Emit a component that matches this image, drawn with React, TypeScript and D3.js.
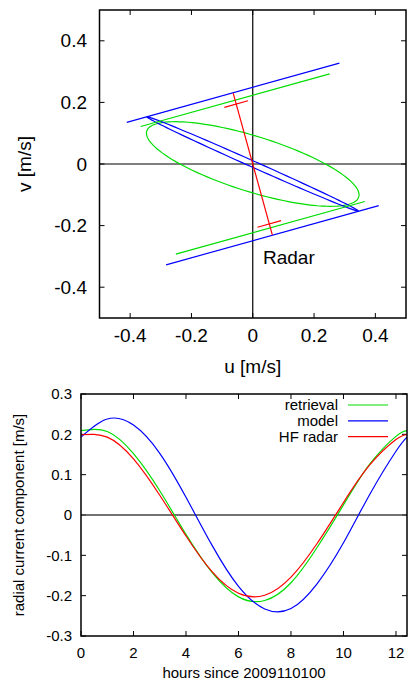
import React from "react";
import * as d3 from "d3";

// ---- top panel: current ellipses in the u/v plane ----
const uvTicks = [-0.4, -0.2, 0, 0.2, 0.4];
const beamAngle = 105.5; // radar look direction, degrees from +u
// lines perpendicular to the beam at +/- radial amplitude
const bandNames = ["retrieval", "model"];
const bandOffset = [0.215, 0.24];
const bandHalfLength = [0.32, 0.36];
// HF radar bar along the beam
const radarSpan = 0.239;
const radarTick = 0.202;
const radarTickHalf = 0.04;
// ellipses: semi-major, semi-minor, angle (deg)
const ellipseRetrieval = [0.362, 0.09, -17.2];
const ellipseModel = [0.377, 0.01, -23.9];

// ---- bottom panel: radial component vs time ----
const hours = [0, 1, 2, 3, 4, 5, 6, 7, 8, 9, 10, 11, 12, 12.42];
const retrieval = [0.209, 0.207, 0.152, 0.06, -0.048, -0.143, -0.203, -0.212, -0.168, -0.08, 0.025, 0.126, 0.195, 0.209];
const model = [0.193, 0.238, 0.223, 0.153, 0.044, -0.076, -0.177, -0.233, -0.232, -0.17, -0.069, 0.051, 0.158, 0.193];
const hfRadar = [0.199, 0.193, 0.139, 0.049, -0.052, -0.141, -0.194, -0.199, -0.154, -0.07, 0.031, 0.124, 0.187, 0.199];
const hourTicks = [0, 2, 4, 6, 8, 10, 12];
const radialTicks = [-0.3, -0.2, -0.1, 0, 0.1, 0.2, 0.3];
const legendNames = ["retrieval", "model", "HF radar"];

const GREEN = "#00dd00";
const BLUE = "#0000ff";
const RED = "#ff0000";
const FONT = "Liberation Sans, Arial, sans-serif";

const fmt = (v: number) => (v === 0 ? "0" : String(+v.toFixed(1)));

export default function App() {
  // top panel scales
  const x1 = d3.scaleLinear().domain([-0.5, 0.5]).range([99.5, 406]);
  const y1 = d3.scaleLinear().domain([-0.5, 0.5]).range([318, 10]);
  const b = (beamAngle * Math.PI) / 180;
  const pt = (d: number, s: number): [number, number] => [
    d * Math.cos(b) + s * Math.sin(b),
    d * Math.sin(b) - s * Math.cos(b),
  ];
  const uv = d3.line<[number, number]>().x((p) => x1(p[0])).y((p) => y1(p[1]));
  const seg = (a: [number, number], c: [number, number]) => uv([a, c]) as string;

  const ellipsePath = (e: number[]) => {
    const [a, bb, ang] = e;
    const r = (ang * Math.PI) / 180;
    const pts = d3.range(0, 361, 3).map((deg) => {
      const t = (deg * Math.PI) / 180;
      const ex = a * Math.cos(t);
      const ey = bb * Math.sin(t);
      return [ex * Math.cos(r) - ey * Math.sin(r), ex * Math.sin(r) + ey * Math.cos(r)] as [number, number];
    });
    return uv(pts) as string;
  };

  // bottom panel scales
  const x2 = d3.scaleLinear().domain([0, 12.42]).range([81, 407]);
  const y2 = d3.scaleLinear().domain([-0.3, 0.3]).range([636, 394]);
  const curve = d3
    .line<number>()
    .x((_, i) => x2(hours[i]))
    .y((v) => y2(v))
    .curve(d3.curveNatural);

  const tickLen = 5;
  const bandColors = [GREEN, BLUE];
  const legendColors = [GREEN, BLUE, RED];
  const legendSeries = [retrieval, model, hfRadar];

  return (
    <svg
      width={409}
      height={684}
      style={{ position: "absolute", left: 0, top: 0, background: "#fff" }}
      fontFamily={FONT}
    >
      <rect width={409} height={684} fill="#fff" />

      {/* ===== top panel ===== */}
      <g>
        {/* axes through origin */}
        <line x1={x1(-0.5)} x2={x1(0.5)} y1={y1(0)} y2={y1(0)} stroke="#000" strokeWidth={1.2} />
        <line x1={x1(0)} x2={x1(0)} y1={y1(-0.5)} y2={y1(0.5)} stroke="#000" strokeWidth={1.2} />

        {/* ticks on all four sides */}
        {uvTicks.map((t) => (
          <g key={"t" + t} stroke="#000" strokeWidth={1}>
            <line x1={x1(t)} x2={x1(t)} y1={y1(-0.5)} y2={y1(-0.5) - tickLen} />
            <line x1={x1(t)} x2={x1(t)} y1={y1(0.5)} y2={y1(0.5) + tickLen} />
            <line x1={x1(-0.5)} x2={x1(-0.5) + tickLen} y1={y1(t)} y2={y1(t)} />
            <line x1={x1(0.5)} x2={x1(0.5) - tickLen} y1={y1(t)} y2={y1(t)} />
          </g>
        ))}

        {/* retrieval ellipse */}
        <path d={ellipsePath(ellipseRetrieval)} fill="none" stroke={GREEN} strokeWidth={1.2} />
        {/* model ellipse */}
        <path d={ellipsePath(ellipseModel)} fill="none" stroke={BLUE} strokeWidth={1.2} />

        {/* lines perpendicular to the beam */}
        {bandNames.map((n, i) =>
          [1, -1].map((sg) => (
            <path
              key={n + sg}
              d={seg(pt(sg * bandOffset[i], -bandHalfLength[i]), pt(sg * bandOffset[i], bandHalfLength[i]))}
              stroke={bandColors[i]}
              strokeWidth={1.2}
              fill="none"
            />
          ))
        )}

        {/* HF radar bar */}
        <path d={seg(pt(-radarSpan, 0), pt(radarSpan, 0))} stroke={RED} strokeWidth={1.2} fill="none" />
        {[1, -1].map((sg) => (
          <path
            key={"rt" + sg}
            d={seg(pt(sg * radarTick, -radarTickHalf), pt(sg * radarTick, radarTickHalf))}
            stroke={RED}
            strokeWidth={1.2}
            fill="none"
          />
        ))}

        <text x={263} y={264} fontSize={19} fill="#000">Radar</text>

        {/* frame */}
        <rect
          x={x1(-0.5)}
          y={y1(0.5)}
          width={x1(0.5) - x1(-0.5)}
          height={y1(-0.5) - y1(0.5)}
          fill="none"
          stroke="#000"
          strokeWidth={1.5}
        />

        {/* tick labels */}
        {uvTicks.map((t) => (
          <text key={"xl" + t} x={x1(t)} y={342} fontSize={19} textAnchor="middle">
            {fmt(t)}
          </text>
        ))}
        {uvTicks.map((t) => (
          <text key={"yl" + t} x={87} y={y1(t)} dy="0.35em" fontSize={19} textAnchor="end">
            {fmt(t)}
          </text>
        ))}
        <text x={x1(0)} y={373} fontSize={19} textAnchor="middle">u [m/s]</text>
        <text transform={`translate(31,${y1(0)}) rotate(-90)`} fontSize={19} textAnchor="middle">
          v [m/s]
        </text>
      </g>

      {/* ===== bottom panel ===== */}
      <g>
        {hourTicks.map((t) => (
          <g key={"h" + t} stroke="#000" strokeWidth={1}>
            <line x1={x2(t)} x2={x2(t)} y1={y2(-0.3)} y2={y2(-0.3) - tickLen} />
            <line x1={x2(t)} x2={x2(t)} y1={y2(0.3)} y2={y2(0.3) + tickLen} />
          </g>
        ))}
        {radialTicks.map((t) => (
          <g key={"r" + t} stroke="#000" strokeWidth={1}>
            <line x1={x2(0)} x2={x2(0) + tickLen} y1={y2(t)} y2={y2(t)} />
            <line x1={x2(12.42)} x2={x2(12.42) - tickLen} y1={y2(t)} y2={y2(t)} />
          </g>
        ))}
        <line x1={x2(0)} x2={x2(12.42)} y1={y2(0)} y2={y2(0)} stroke="#444" strokeWidth={1.5} />

        {legendSeries.map((s, i) => (
          <path key={"c" + i} d={curve(s) as string} fill="none" stroke={legendColors[i]} strokeWidth={1.2} />
        ))}

        {/* legend */}
        {legendNames.map((n, i) => (
          <g key={n}>
            <text x={338} y={405 + i * 15.8} dy="0.35em" fontSize={15} textAnchor="end">
              {n}
            </text>
            <line
              x1={348}
              x2={388}
              y1={405 + i * 15.8}
              y2={405 + i * 15.8}
              stroke={legendColors[i]}
              strokeWidth={1.2}
            />
          </g>
        ))}

        <rect
          x={x2(0)}
          y={y2(0.3)}
          width={x2(12.42) - x2(0)}
          height={y2(-0.3) - y2(0.3)}
          fill="none"
          stroke="#000"
          strokeWidth={1.5}
        />

        {hourTicks.map((t) => (
          <text key={"hl" + t} x={x2(t)} y={658} fontSize={15} textAnchor="middle">
            {t}
          </text>
        ))}
        {radialTicks.map((t) => (
          <text key={"rl" + t} x={72} y={y2(t)} dy="0.35em" fontSize={15} textAnchor="end">
            {fmt(t)}
          </text>
        ))}
        <text x={244} y={678} fontSize={15} textAnchor="middle">hours since 2009110100</text>
        <text transform={`translate(24,${y2(0)}) rotate(-90)`} fontSize={15} textAnchor="middle">
          radial current component [m/s]
        </text>
      </g>
    </svg>
  );
}
